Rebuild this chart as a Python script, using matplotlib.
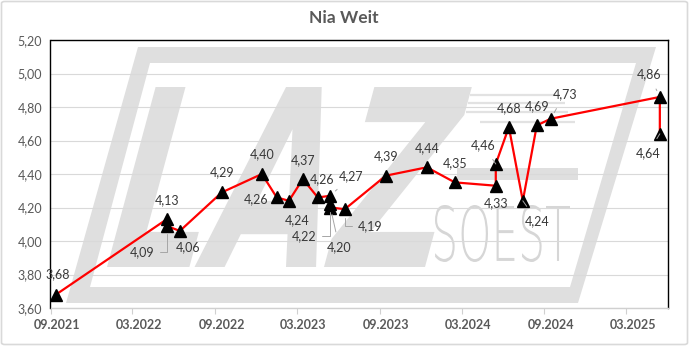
import matplotlib
matplotlib.use("Agg")
import matplotlib.pyplot as plt
import matplotlib.dates as mdates
import matplotlib.transforms as mtransforms
from matplotlib.textpath import TextPath
from matplotlib.font_manager import FontProperties
from matplotlib.patches import PathPatch, FancyBboxPatch
from matplotlib.path import Path
from matplotlib.ticker import FuncFormatter, MultipleLocator
import pandas as pd
import numpy as np

# ---------------- data ----------------
title = "Nia Weit"
dates = ["2021-09-13", "2022-05-17", "2022-05-17", "2022-06-15", "2022-09-16",
         "2022-12-14", "2023-01-16", "2023-02-12", "2023-03-15", "2023-04-17",
         "2023-05-15", "2023-05-15", "2023-05-15", "2023-06-16", "2023-09-15",
         "2023-12-15", "2024-02-15", "2024-05-16", "2024-05-16", "2024-06-14",
         "2024-07-15", "2024-08-15", "2024-09-15", "2025-05-15", "2025-05-15"]
values = [3.68, 4.13, 4.09, 4.06, 4.29, 4.40, 4.26, 4.24, 4.37, 4.26,
          4.27, 4.22, 4.20, 4.19, 4.39, 4.44, 4.35, 4.33, 4.46, 4.68,
          4.24, 4.69, 4.73, 4.86, 4.64]
xtick_dates = ["2021-09-01", "2022-03-01", "2022-09-01", "2023-03-01",
               "2023-09-01", "2024-03-01", "2024-09-01", "2025-03-01"]
x_range = ["2021-09-01", "2025-06-01"]
y_range = [3.60, 5.20]

# label placement (pixel offsets from point; leader style)
label_offsets = [(2, 20), (0, 19), (-25, -26), (8, -16), (0, 20),
                 (0, 20), (-21, -2), (8, -19), (0, 19), (4, 18.5),
                 (21, 20), (-26, -32), (9, -40), (25, -16.5), (0, 20),
                 (0, 19.6), (0, 19.7), (0, -17.6), (-13, 19), (0, 19.4),
                 (14, -20), (0, 19.7), (14, 25), (-11, 23), (-12, -19.5)]
leaders = [None, None, "elbow", None, None,
           None, None, None, None, None,
           "line", "elbow", "line", "elbow", None,
           None, None, None, "line", None,
           "line", None, "line", "line", "line"]

W, H = 689, 346
FONT = ["Lato", "DejaVu Sans"]
plt.rcParams["font.family"] = FONT

fig = plt.figure(figsize=(W / 100, H / 100), dpi=100)
fig.patch.set_facecolor("white")
ax = fig.add_axes([50.5 / W, 1 - 308 / H, 617 / W, 268 / H])
ax.set_facecolor("white")

# chart border
fig.patches.append(FancyBboxPatch((1.5 / W, 1.5 / H), 1 - 3 / W, 1 - 3 / H,
                                  boxstyle="round,pad=0,rounding_size=0.005",
                                  transform=fig.transFigure, facecolor="none",
                                  edgecolor="#d9d9d9", lw=1.2))

# ---------------- watermark (background logo) ----------------
def pix(x, y):
    return (x, H - y)

wm_color = "#dfdfdf"
outer = [pix(138, 47), pix(656, 47), pix(578, 303), pix(66, 303), pix(138, 47)]
inner = [pix(150, 63), pix(90, 287), pix(570, 287), pix(636, 63), pix(150, 63)]
verts = outer + inner
codes = ([Path.MOVETO] + [Path.LINETO] * 3 + [Path.CLOSEPOLY]) * 2
frame = PathPatch(Path(verts, codes), facecolor=wm_color, edgecolor="none",
                  transform=mtransforms.IdentityTransform(), zorder=0.2)
ax.add_patch(frame)


def fit_text(s, x0, y0, x1, y1, prop, color, skew=0.0, zorder=0.2):
    tp = TextPath((0, 0), s, size=100, prop=prop)
    ext = tp.get_extents()
    sx = (x1 - x0) / ext.width
    sy = (y1 - y0) / ext.height
    tr = (mtransforms.Affine2D().translate(-ext.x0, -ext.y0).scale(sx, sy)
          + mtransforms.Affine2D(np.array([[1, skew, 0], [0, 1, 0], [0, 0, 1]]))
          + mtransforms.Affine2D().translate(x0, H - y1))
    p = tr.transform_path(tp)
    ax.add_patch(PathPatch(p, facecolor=color, edgecolor="none",
                           transform=mtransforms.IdentityTransform(), zorder=zorder))


fit_text("LAZ", 107, 87, 425, 267, FontProperties(family="DejaVu Sans", weight="bold"),
         wm_color, skew=0.27)
fit_text("SOEST", 435, 205, 570, 262, FontProperties(family="DejaVu Sans", weight="light"),
         "#d6d6d6")
bar = PathPatch(Path([pix(457, 168), pix(578, 168), pix(578, 180), pix(457, 180), pix(457, 168)],
                     [Path.MOVETO, Path.LINETO, Path.LINETO, Path.LINETO, Path.CLOSEPOLY]),
                facecolor=wm_color, edgecolor="none",
                transform=mtransforms.IdentityTransform(), zorder=0.2)
ax.add_patch(bar)
for yy, xa, xb in [(95, 470, 560), (103, 468, 565), (112, 466, 568), (122, 480, 575)]:
    ax.add_patch(PathPatch(Path([pix(xa, yy), pix(xb, yy)]), edgecolor="#e2e2e2", lw=1.6,
                           facecolor="none", transform=mtransforms.IdentityTransform(),
                           zorder=0.2))

# ---------------- data series ----------------
x = pd.to_datetime(dates)
ax.plot(x, values, color="#ff0000", lw=1.6, marker="^", ms=9,
        mfc="black", mec="black", zorder=3)

ax.set_xlim(pd.Timestamp(x_range[0]), pd.Timestamp(x_range[1]))
ax.set_ylim(*y_range)

ax.yaxis.set_major_locator(MultipleLocator(0.2))
ax.yaxis.set_major_formatter(FuncFormatter(lambda v, p: f"{v:.2f}".replace(".", ",")))
ax.set_xticks(pd.to_datetime(xtick_dates))
ax.xaxis.set_major_formatter(mdates.DateFormatter("%m.%Y"))

ax.grid(axis="y", color="#d9d9d9", lw=0.8, zorder=0.5)
ax.set_axisbelow(True)

for s in ["top", "right", "left"]:
    ax.spines[s].set_color("black")
    ax.spines[s].set_linewidth(1.0)
ax.spines["bottom"].set_color("#d0d0d0")
ax.spines["bottom"].set_linewidth(1.0)

ax.tick_params(axis="y", length=0, pad=6, labelsize=9, labelcolor="#595959")
ax.tick_params(axis="x", length=4, width=0.8, color="#d0d0d0", pad=4,
               labelsize=9, labelcolor="#595959")
for lab in ax.get_xticklabels():
    lab.set_fontweight("bold")
    lab.set_transform(lab.get_transform() +
                      mtransforms.ScaledTranslation(6.5 / 100, 0, fig.dpi_scale_trans))

# ---------------- data labels ----------------
for xi, v, (dx, dy), ld in zip(x, values, label_offsets, leaders):
    txt = f"{v:.2f}".replace(".", ",")
    kw = dict(xy=(xi, v), xytext=(dx, dy), textcoords="offset pixels",
              ha="center", va="center", fontsize=9, color="#383838", zorder=4)
    if ld == "line":
        kw["arrowprops"] = dict(arrowstyle="-", color="#a6a6a6", lw=0.7,
                                shrinkA=5, shrinkB=5)
    elif ld == "elbow":
        kw["arrowprops"] = dict(arrowstyle="-", color="#a6a6a6", lw=0.7,
                                connectionstyle="angle,angleA=0,angleB=90,rad=0",
                                shrinkA=2, shrinkB=6)
    ax.annotate(txt, **kw)

fig.text(344 / W, 1 - 18 / H, title, ha="center", va="center", fontsize=12.5,
         fontweight="bold", color="#595959")

fig.savefig("out.png", dpi=100)
